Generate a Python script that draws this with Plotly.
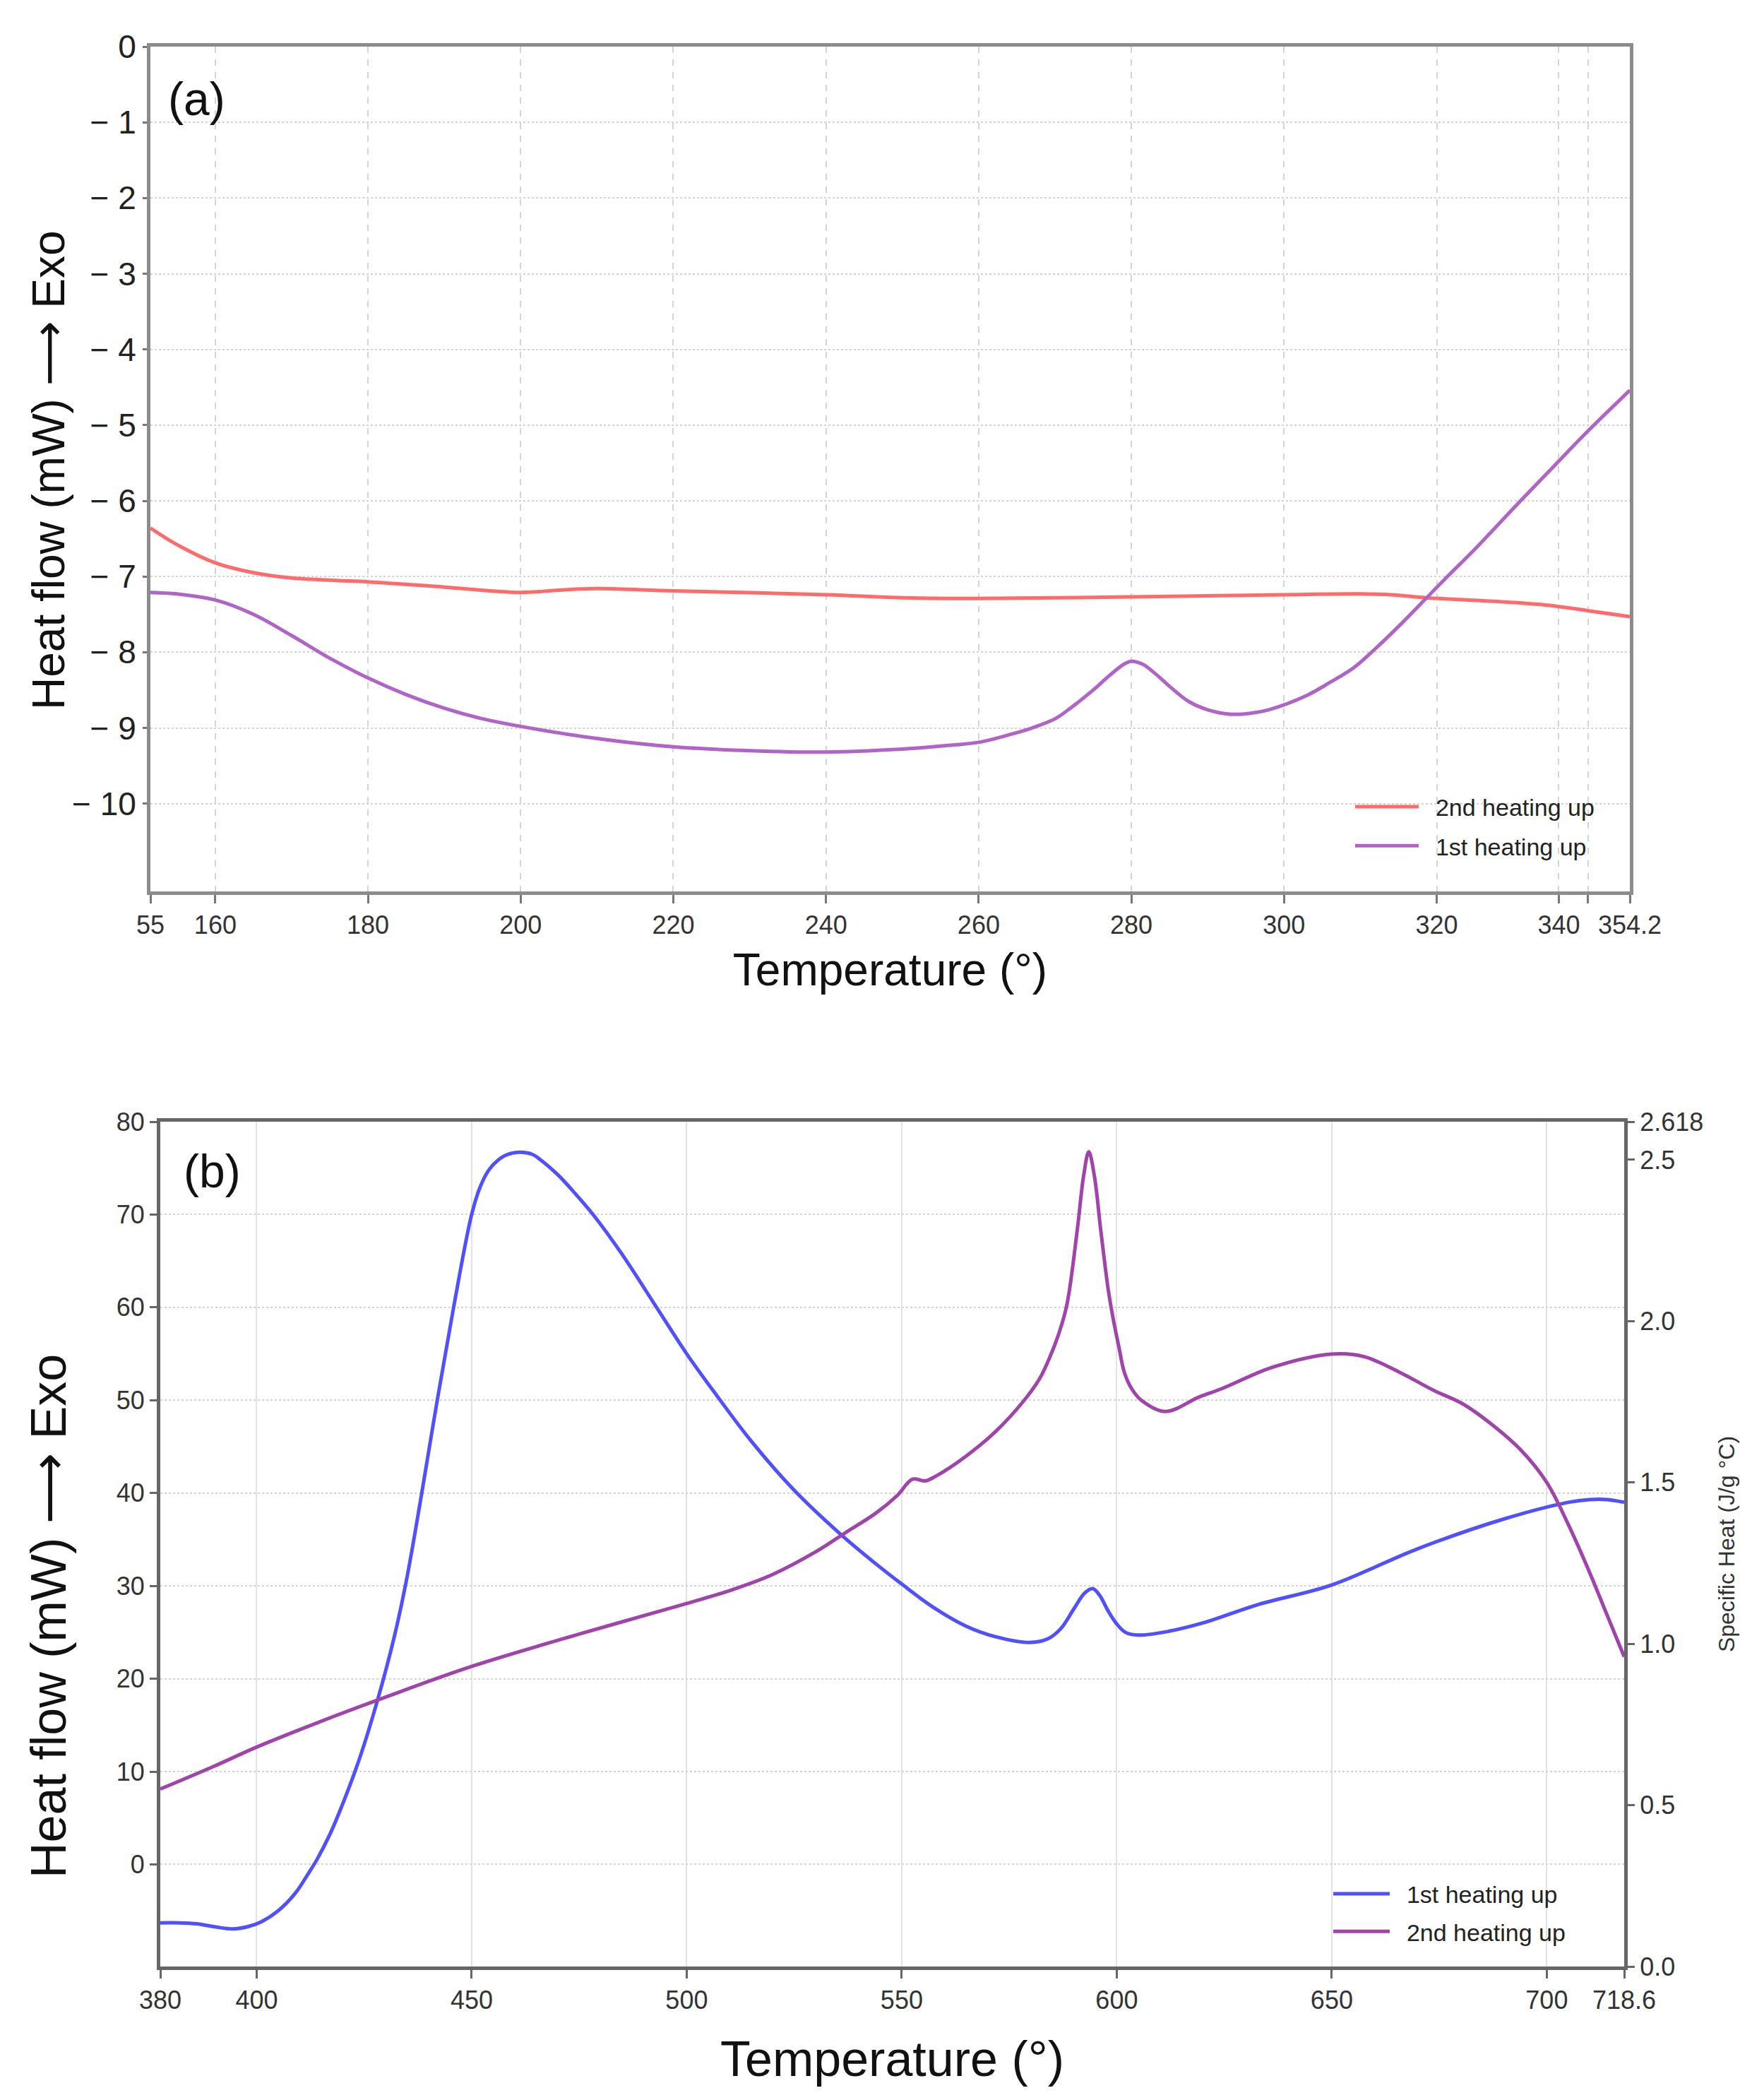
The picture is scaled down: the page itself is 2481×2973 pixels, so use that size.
import plotly.graph_objects as go

# ---- panel (a): 55-354.2 scan (x in axis units as drawn) ----
a_tick_vals = [151.5, 160, 180, 200, 220, 240, 260, 280, 300, 320, 336.0, 339.8, 345.3]
a_tick_text = ["55", "160", "180", "200", "220", "240", "260", "280", "300", "320", "340", "", "354.2"]
a_y_vals = [0, -1, -2, -3, -4, -5, -6, -7, -8, -9, -10]
a_y_text = ["0", "\u2212 1", "\u2212 2", "\u2212 3", "\u2212 4", "\u2212 5",
            "\u2212 6", "\u2212 7", "\u2212 8", "\u2212 9", "\u2212 10"]

a2_temp = [151.5, 155, 160, 165, 170, 180, 190, 200, 205, 210, 220, 240, 250, 260,
           280, 300, 310, 314, 318.5, 322, 328, 334.7, 339.7, 345.3]
a2_heat = [-6.36, -6.58, -6.82, -6.95, -7.02, -7.07, -7.14, -7.21, -7.18, -7.16, -7.19,
           -7.24, -7.28, -7.29, -7.27, -7.24, -7.23, -7.24, -7.28, -7.30, -7.33, -7.38,
           -7.45, -7.53]

a1_temp = [151.5, 155, 160, 165, 170, 175, 180, 185, 190, 195, 200, 210, 220, 230, 240,
           250, 255, 260, 264, 267, 270, 272, 275, 277, 279, 280, 281.5, 283.1, 285,
           287.5, 290, 293.1, 296, 298, 303, 306, 309.2, 312, 315.4, 318.5, 321.6,
           324.7, 330.9, 335, 339.6, 345.3]
a1_heat = [-7.21, -7.23, -7.31, -7.50, -7.78, -8.08, -8.34, -8.56, -8.74, -8.88, -8.98,
           -9.14, -9.25, -9.30, -9.32, -9.28, -9.24, -9.19, -9.09, -9.00, -8.88, -8.74,
           -8.50, -8.32, -8.16, -8.12, -8.16, -8.28, -8.45, -8.65, -8.76, -8.82, -8.80,
           -8.76, -8.57, -8.40, -8.20, -7.95, -7.62, -7.30, -6.98, -6.67, -6.01, -5.58,
           -5.10, -4.54]

# ---- panel (b): 380-718.6 scan ----
b_tick_vals = [377.6, 400, 450, 500, 550, 600, 650, 700, 718]
b_tick_text = ["380", "400", "450", "500", "550", "600", "650", "700", "718.6"]
b_cp_vals = [0, 0.5, 1.0, 1.5, 2.0, 2.5, 2.618]
b_cp_text = ["0.0", "0.5", "1.0", "1.5", "2.0", "2.5", "2.618"]

b1_temp = [377.6, 382, 386, 390, 394.5, 398, 401, 405, 409, 412, 414, 417, 420, 424,
           428, 432, 435, 438.4, 442, 445.8, 450, 452, 454, 456, 458, 461, 464, 466,
           470, 474, 478.4, 485, 493, 500, 507, 515, 525, 535.7, 545, 550, 557, 564.8,
           572, 579.8, 584, 587, 590, 592.5, 594.4, 596, 598, 600, 602, 605, 612, 620,
           633, 650, 670, 690, 705, 710, 714, 718]
b1_heat = [-6.3, -6.3, -6.4, -6.7, -6.95, -6.7, -6.2, -5.0, -3.1, -1.0, 0.5, 3.2, 6.5,
           11.5, 17.5, 24.5, 31.0, 40.0, 50.0, 60.0, 70.0, 73.0, 74.8, 75.8, 76.4, 76.7,
           76.5, 75.9, 74.3, 72.3, 69.9, 65.7, 60.0, 55.0, 50.5, 45.6, 40.3, 35.6, 32.0,
           30.2, 27.8, 25.7, 24.5, 23.9, 24.3, 25.4, 27.5, 29.2, 29.7, 29.0, 27.3, 25.9,
           25.0, 24.7, 25.1, 26.0, 28.0, 30.1, 34.0, 37.2, 39.0, 39.3, 39.3, 39.0]

b2_temp = [377.6, 390, 400, 415, 430, 450, 475, 500, 510, 520, 530, 537, 544, 549,
           552.5, 555.5, 558, 564.8, 572, 578.2, 582, 584.5, 586.5, 588.4, 590.8, 592.3,
           593.5, 594.8, 596.3, 598, 599, 600.5, 601.8, 603.5, 605.7, 611.3, 619.2,
           624.3, 636.2, 650, 657.5, 666, 673.6, 680.4, 687.2, 694, 700, 705, 710, 714, 718]
b2_cp = [0.55, 0.62, 0.68, 0.76, 0.835, 0.93, 1.03, 1.125, 1.165, 1.215, 1.285, 1.345,
         1.405, 1.46, 1.51, 1.505, 1.52, 1.58, 1.66, 1.75, 1.82, 1.89, 1.96, 2.05, 2.28,
         2.45, 2.525, 2.45, 2.28, 2.10, 2.02, 1.92, 1.84, 1.79, 1.755, 1.72, 1.765, 1.79,
         1.857, 1.898, 1.89, 1.84, 1.786, 1.744, 1.68, 1.60, 1.50, 1.37, 1.22, 1.09, 0.96]

W, H = 2481, 2973
NARROW = "Liberation Sans Narrow, Arial Narrow, Liberation Sans, sans-serif"
SANS = "Liberation Sans, Arial, sans-serif"
ARROW = '<span style="font-family:DejaVu Sans">\u27f6</span>'
GAP = "\u00a0\u00a0"  # space between legend key and label

fig = go.Figure()

fig.add_trace(go.Scatter(x=a2_temp, y=a2_heat, mode="lines", name=GAP + "2nd heating up",
                         line=dict(color="#ff6a6a", width=5, shape="spline", smoothing=1),
                         xaxis="x", yaxis="y", legend="legend", legendgroup="a2"))
fig.add_trace(go.Scatter(x=a1_temp, y=a1_heat, mode="lines", name=GAP + "1st heating up",
                         line=dict(color="#b064c8", width=5, shape="spline", smoothing=1),
                         xaxis="x", yaxis="y", legend="legend", legendgroup="a1"))
fig.add_trace(go.Scatter(x=b1_temp, y=b1_heat, mode="lines", name=GAP + "1st heating up",
                         line=dict(color="#5050ff", width=5, shape="spline", smoothing=1),
                         xaxis="x2", yaxis="y2", legend="legend2", legendgroup="b1"))
fig.add_trace(go.Scatter(x=b2_temp, y=b2_cp, mode="lines", name=GAP + "2nd heating up",
                         line=dict(color="#a044ac", width=5, shape="spline", smoothing=1),
                         xaxis="x2", yaxis="y3", legend="legend2", legendgroup="b2"))

grid = "#d4d4d4"

fig.update_layout(
    width=W, height=H,
    margin=dict(l=0, r=0, t=0, b=0),
    paper_bgcolor="white", plot_bgcolor="white",
    font=dict(family=SANS, color="#222"),
    xaxis=dict(domain=[205 / W, 2300 / W], anchor="y", range=[151.5, 345.3],
               tickvals=a_tick_vals, ticktext=a_tick_text,
               tickfont=dict(family=NARROW, size=36, color="#333"),
               ticks="outside", ticklen=12, tickwidth=3, tickcolor="#777",
               showline=True, linecolor="#8c8c8c", linewidth=5, mirror=True,
               showgrid=True, gridcolor=grid, gridwidth=2, griddash="dash",
               zeroline=False, automargin=False,
               title=dict(text="Temperature (\u00b0)", font=dict(size=64, color="#111"),
                          standoff=22)),
    yaxis=dict(domain=[1 - 1254 / H, 1 - 58 / H], anchor="x", range=[-11.16, 0],
               tickvals=a_y_vals, ticktext=a_y_text,
               tickfont=dict(family=NARROW, size=46, color="#222"),
               ticks="outside", ticklen=6, tickwidth=3, tickcolor="#777",
               showline=True, linecolor="#8c8c8c", linewidth=5, mirror=True,
               showgrid=True, gridcolor=grid, gridwidth=2, griddash="dot",
               zeroline=False, automargin=False),
    xaxis2=dict(domain=[219 / W, 2292 / W], anchor="y2", range=[377.6, 718],
                tickvals=b_tick_vals, ticktext=b_tick_text,
                tickfont=dict(family=NARROW, size=36, color="#333"),
                ticks="outside", ticklen=12, tickwidth=3, tickcolor="#666",
                showline=True, linecolor="#666", linewidth=5, mirror=True,
                showgrid=True, gridcolor="#e2e2e2", gridwidth=2,
                zeroline=False, automargin=False,
                title=dict(text="Temperature (\u00b0)", font=dict(size=70, color="#111"),
                           standoff=40)),
    yaxis2=dict(domain=[1 - 2776 / H, 1 - 1580 / H], anchor="x2", range=[-11, 80],
                tickvals=[0, 10, 20, 30, 40, 50, 60, 70, 80],
                tickfont=dict(family=NARROW, size=36, color="#333"),
                ticks="outside", ticklen=10, tickwidth=3, tickcolor="#666",
                showline=True, linecolor="#666", linewidth=5,
                showgrid=True, gridcolor=grid, gridwidth=2, griddash="dot",
                zeroline=False, automargin=False),
    yaxis3=dict(overlaying="y2", side="right", anchor="x2", range=[0, 2.618],
                tickvals=b_cp_vals, ticktext=b_cp_text,
                tickfont=dict(family=NARROW, size=36, color="#333"),
                ticks="outside", ticklen=10, tickwidth=3, tickcolor="#666",
                showline=True, linecolor="#666", linewidth=5,
                showgrid=False, zeroline=False, automargin=False,
                title=dict(text="Specific Heat (J/g \u00b0C)",
                           font=dict(family=NARROW, size=32, color="#333"), standoff=24)),
    legend=dict(x=1906 / W, y=1 - 1162 / H, xanchor="left", yanchor="middle",
                bgcolor="rgba(255,255,255,0)", tracegroupgap=8, itemwidth=90,
                font=dict(family=NARROW, size=34, color="#222")),
    legend2=dict(x=1875 / W, y=1 - 2700 / H, xanchor="left", yanchor="middle",
                 bgcolor="rgba(255,255,255,0)", tracegroupgap=6, itemwidth=80,
                 font=dict(family=NARROW, size=34, color="#222")),
    annotations=[
        dict(text="(a)", x=228 / W, y=1 - 132 / H, xref="paper", yref="paper",
             xanchor="left", yanchor="middle", showarrow=False,
             font=dict(size=66, color="#111")),
        dict(text="(b)", x=250 / W, y=1 - 1650 / H, xref="paper", yref="paper",
             xanchor="left", yanchor="middle", showarrow=False,
             font=dict(size=66, color="#111")),
        dict(text="Heat flow (mW) " + ARROW + " Exo", x=61 / W, y=1 - 658 / H,
             xref="paper", yref="paper", xanchor="center", yanchor="middle",
             textangle=-90, showarrow=False, font=dict(size=64, color="#111")),
        dict(text="Heat flow (mW) " + ARROW + " Exo", x=61 / W, y=1 - 2280 / H,
             xref="paper", yref="paper", xanchor="center", yanchor="middle",
             textangle=-90, showarrow=False, font=dict(size=70, color="#111")),
    ],
)

fig.write_html("out.html")
